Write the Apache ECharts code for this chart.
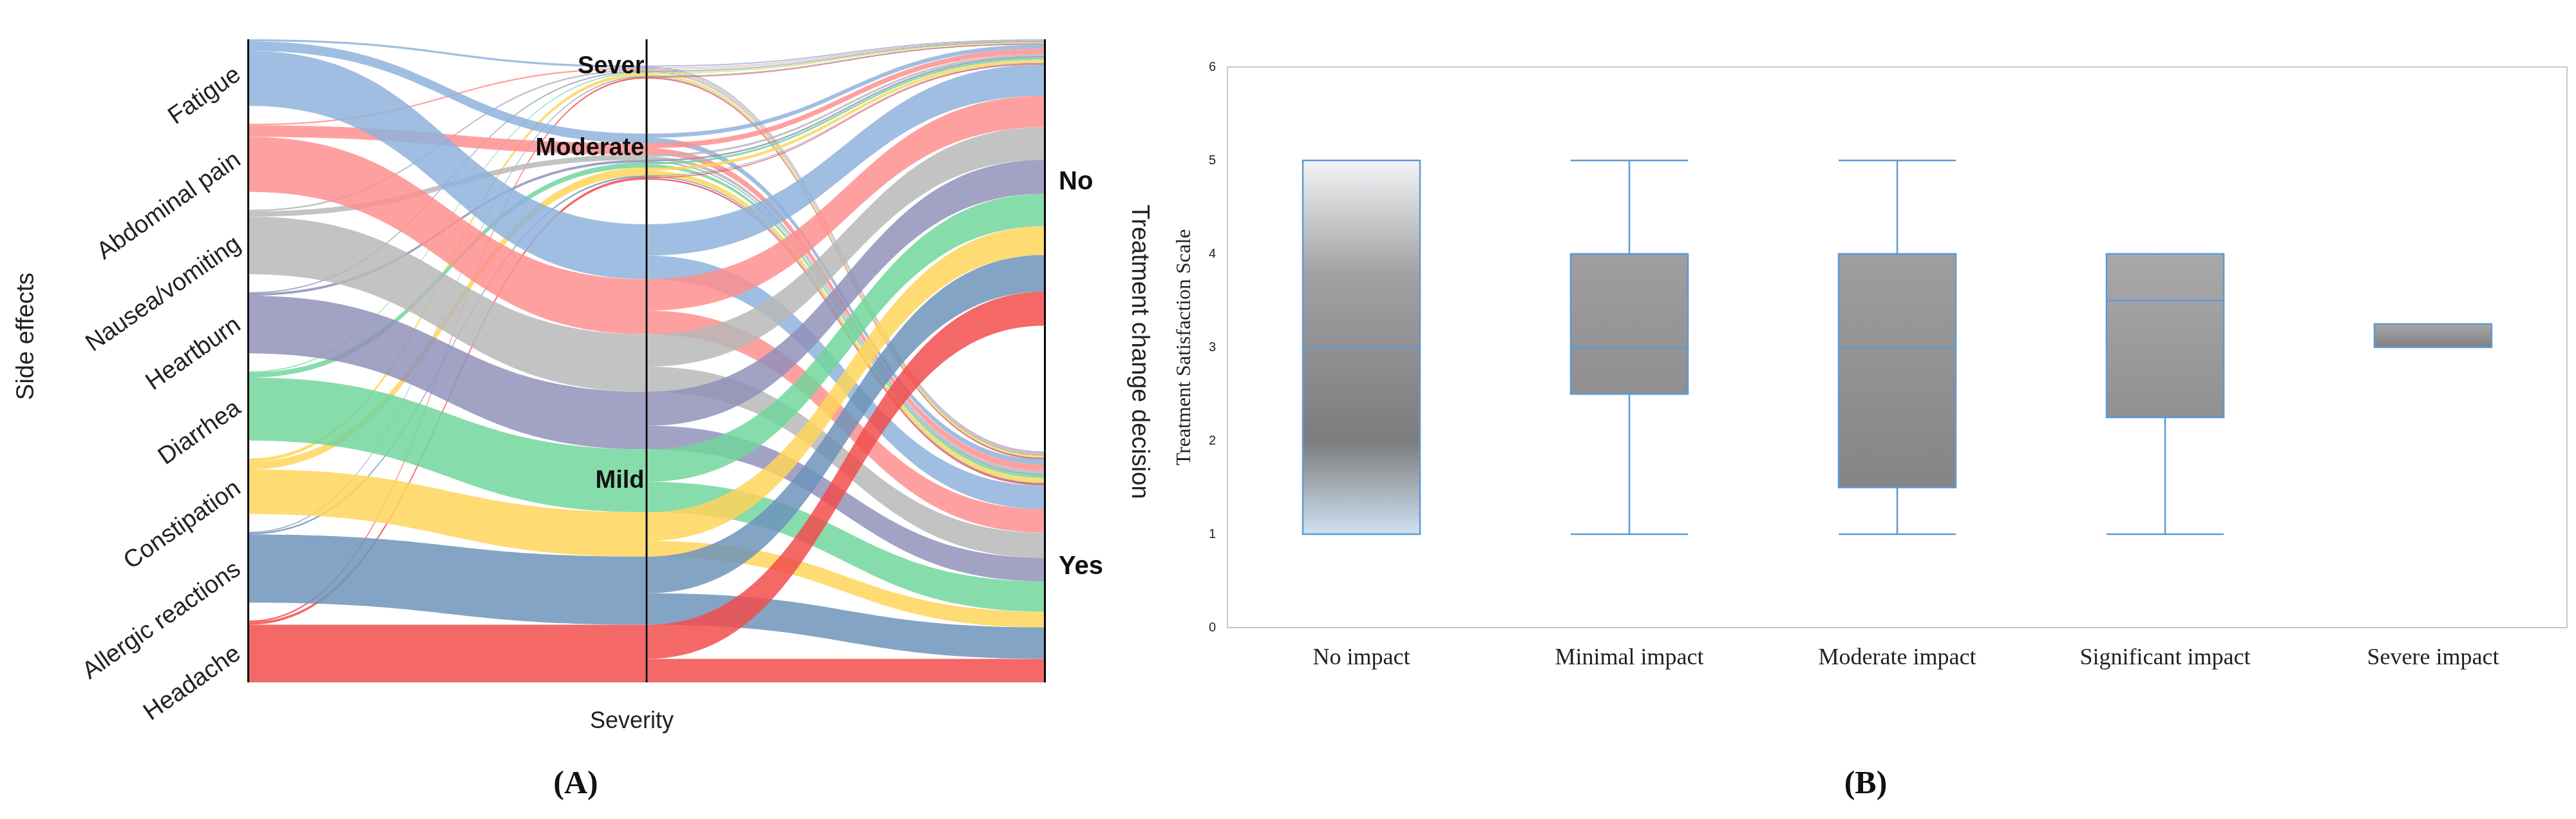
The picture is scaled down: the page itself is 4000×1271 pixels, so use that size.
<!DOCTYPE html>
<html>
<head>
<meta charset="utf-8">
<script src="https://cdn.jsdelivr.net/npm/echarts@6/dist/echarts.min.js"></script>
<style>html,body{margin:0;padding:0;background:#fff}#main{width:4000px;height:1271px}</style>
</head>
<body>
<div id="main"></div>
<script>
// ---- panel A data (flow sizes) ----
var effects = ['Fatigue','Abdominal pain','Nausea/vomiting','Heartburn','Diarrhea','Constipation','Allergic reactions','Headache'];
var effectColors = ['#8fb3dc','#ff8f8f','#b8b8b8','#9292bb','#72d69c','#ffd55c','#6f94bb','#f24d4d'];
var severities = ['Sever','Moderate','Mild'];
var decisions = ['No','Yes'];
var severeNo    = [2, 1, 1, 1, 1, 2, 1, 1];
var severeYes   = [2, 2, 2, 1, 1, 4, 1, 2];
var moderateNo  = [8, 10, 4, 3, 4, 6, 1, 2];
var moderateYes = [10, 12, 6, 2, 6, 9, 2, 3];
var mildNo      = [60, 60, 62, 65, 62, 55, 70, 65];
var mildYes     = [45, 45, 48, 45, 58, 30, 60, 45];
var gapTotal = 240;

// ---- panel B data ----
var impactCats = ['No impact','Minimal impact','Moderate impact','Significant impact','Severe impact'];
var boxValues = [
  [1, 1, 3, 5, 5],
  [1, 2.5, 3, 4, 5],
  [1, 1.5, 3, 4, 5],
  [1, 2.25, 3.5, 4, 4],
  [3, 3, 3, 3.25, 3.25]
];

var splits = [[severeNo, severeYes],[moderateNo, moderateYes],[mildNo, mildYes]];

var nodes = [], links = [];
var axisStyle = {color:'#000'};
// left column
effects.forEach(function(e, i){
  if (i > 0) nodes.push({name:'_l'+i, depth:0, value:gapTotal/7, itemStyle:axisStyle, label:{show:false}});
  nodes.push({name:e, itemStyle:axisStyle,
    label:{show:true, position:'left', rotate:35, distance:14, fontSize:38, color:'#222', fontFamily:'Liberation Sans'}});
});
// middle column
var midGaps = [50, 105, 85];
severities.forEach(function(s, si){
  nodes.push({name:'_m'+si, depth:1, value:midGaps[si], itemStyle:axisStyle, label:{show:false}});
  effects.forEach(function(e, i){
    var n = {name:s+'|'+e, itemStyle:axisStyle, label:{show:false}};
    if ((si == 0 && i == 0) || (si == 1 && i == 1) || (si == 2 && i == 4)) {
      n.label = {show:true, position:'left', formatter:s, distance:2, fontSize:38, fontWeight:'bold', color:'#111', fontFamily:'Liberation Sans'};
    }
    nodes.push(n);
    links.push({source:e, target:s+'|'+e, value:splits[si][0][i]+splits[si][1][i], lineStyle:{color:effectColors[i]}});
    decisions.forEach(function(d, di){
      links.push({source:s+'|'+e, target:d, value:splits[si][di][i], lineStyle:{color:effectColors[i]}});
    });
  });
});
// right column
var decLabel = {show:true, position:'right', distance:20, fontSize:40, fontWeight:'bold', color:'#111', fontFamily:'Liberation Sans'};
nodes.push({name:'No', itemStyle:axisStyle, label:decLabel});
nodes.push({name:'_r', depth:2, value:gapTotal, itemStyle:axisStyle, label:{show:false}});
nodes.push({name:'Yes', itemStyle:axisStyle, label:decLabel});

function grayFill(stops){
  return new echarts.graphic.LinearGradient(0,0,0,1, stops);
}
var boxData = boxValues.map(function(v, i){
  var fill = i == 0
    ? grayFill([{offset:0,color:'#f3f4f7'},{offset:0.3,color:'#a2a2a2'},{offset:0.75,color:'#7c7c7c'},{offset:1,color:'#d0e2f3'}])
    : grayFill([{offset:0,color:'#a9a9a9'},{offset:1,color:'#7f7f7f'}]);
  return {value:v, itemStyle:{color:fill}};
});

var chart = echarts.init(document.getElementById('main'));
chart.setOption({
  animation:false,
  grid:{left:1906, right:14, top:104, bottom:297, show:true, borderColor:'#c8c8c8', borderWidth:2},
  xAxis:{type:'category', data:impactCats, axisLine:{show:false}, axisTick:{show:false},
    axisLabel:{fontFamily:'Liberation Serif', fontSize:36, color:'#222', margin:30}},
  yAxis:{type:'value', min:0, max:6, interval:1, axisLine:{show:false}, axisTick:{show:false}, splitLine:{show:false},
    axisLabel:{fontFamily:'Liberation Sans', fontSize:20, color:'#222', margin:18},
    name:'Treatment Satisfaction Scale', nameLocation:'middle', nameGap:50,
    nameTextStyle:{fontFamily:'Liberation Serif', fontSize:32, color:'#222'}},
  series:[
    {type:'sankey', left:384, right:2376, top:61, bottom:212, nodeWidth:3, nodeGap:0,
      layoutIterations:0, nodeAlign:'left', draggable:false, emphasis:{disabled:true},
      lineStyle:{opacity:0.85, curveness:0.5},
      data:nodes, links:links},
    {type:'boxplot', data:boxData, boxWidth:[182,182],
      itemStyle:{borderColor:'#5b9bd5', borderWidth:2.5}, emphasis:{disabled:true}}
  ],
  graphic:[
    {type:'text', x:42, y:522, rotation:Math.PI/2, style:{text:'Side effects', font:'38px Liberation Sans', fill:'#222', textAlign:'center', textVerticalAlign:'middle'}},
    {type:'text', x:1768, y:546, rotation:-Math.PI/2, style:{text:'Treatment change decision', font:'38px Liberation Sans', fill:'#222', textAlign:'center', textVerticalAlign:'middle'}},
    {type:'text', x:981, y:1120, style:{text:'Severity', font:'36px Liberation Sans', fill:'#222', textAlign:'center', textVerticalAlign:'middle'}},
    {type:'text', x:894, y:1218, style:{text:'(A)', font:'bold 50px Liberation Serif', fill:'#111', textAlign:'center', textVerticalAlign:'middle'}},
    {type:'text', x:2897, y:1218, style:{text:'(B)', font:'bold 50px Liberation Serif', fill:'#111', textAlign:'center', textVerticalAlign:'middle'}}
  ]
});
</script>
</body>
</html>
